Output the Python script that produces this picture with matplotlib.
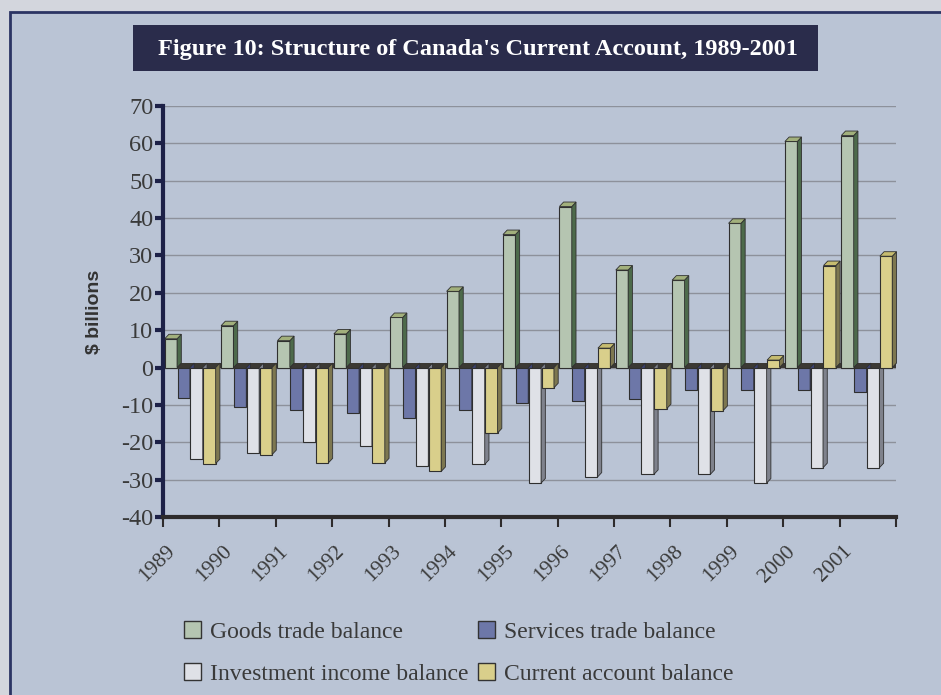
import numpy as np
import matplotlib.pyplot as plt
from matplotlib.patches import Rectangle, Polygon, Patch

years = [str(y) for y in range(1989, 2002)]
goods = [7.7, 11.2, 7.2, 9.0, 13.4, 20.4, 35.6, 43.1, 26.1, 23.4, 38.6, 60.5, 62.1]
services = [-8.1, -10.5, -11.4, -12.1, -13.6, -11.4, -9.6, -8.9, -8.3, -6.0, -6.0, -6.0, -6.5]
investment = [-24.6, -22.8, -19.9, -21.0, -26.4, -25.9, -30.9, -29.3, -28.6, -28.6, -30.9, -26.8, -26.8]
current = [-25.7, -23.3, -25.5, -25.5, -27.8, -17.5, -5.4, 5.2, -11.0, -11.5, 2.0, 27.3, 29.8]

names = ["Goods trade balance", "Services trade balance",
         "Investment income balance", "Current account balance"]
series = [goods, services, investment, current]
# front, side, top colours
cols = [("#b5c5b1", "#4d6a4b", "#a2b07c"),
        ("#6d77a8", "#3c4270", "#5a6494"),
        ("#dfe1e7", "#7f828c", "#c9ccd4"),
        ("#d9cf8b", "#7d7750", "#c6bc70")]

bg = "#bac4d5"
fig = plt.figure(figsize=(9.41, 6.95), dpi=100)
fig.patch.set_facecolor("#d3d6dd")

# outer frame
fig.patches.append(Rectangle((10/941, -0.1), 1.2, 1 - 12/695 + 0.1, transform=fig.transFigure,
                             fc=bg, ec="#2b3463", lw=2, zorder=-10))
# title box
fig.patches.append(Rectangle((133/941, 1 - 71/695), 685/941, 46/695, transform=fig.transFigure,
                             fc="#2a2c4b", ec="none", zorder=-9))
fig.text(478/941, 1 - 49/695, "Figure 10: Structure of Canada's Current Account, 1989-2001",
         color="white", fontsize=17.5, fontweight="bold", family="Liberation Serif",
         ha="center", va="center", zorder=2)

ax = fig.add_axes([163/941, 1 - 517/695, (896 - 163)/941, (517 - 106)/695])
ax.set_facecolor("none")
ax.set_zorder(1)

x = np.arange(len(years))
w = 0.22
step = 0.228
dx, dy = 0.075, 1.2

ax.axhspan(0, dy, color="#3b3934", zorder=0.8, lw=0)

for k, (vals, (fc, sc, tc)) in enumerate(zip(series, cols)):
    left = x - 0.5 + 0.03 + k*step
    ax.bar(left, vals, width=w, align="edge", color=fc, edgecolor="#2f2f2f",
           linewidth=0.8, zorder=2 + k)
    for xl, v in zip(left, vals):
        xr = xl + w
        ax.add_patch(Polygon([(xr, 0), (xr + dx, dy), (xr + dx, v + dy), (xr, v)],
                             closed=True, fc=sc, ec="#2f2f2f", lw=0.6, zorder=2 + k,
                             clip_on=False))
        if v > 0:
            ax.add_patch(Polygon([(xl, v), (xl + dx, v + dy), (xr + dx, v + dy), (xr, v)],
                                 closed=True, fc=tc, ec="#2f2f2f", lw=0.6, zorder=2 + k,
                                 clip_on=False))

ax.set_xlim(-0.5, 12.5)
ax.set_ylim(-40, 70)
ax.set_yticks(range(-40, 80, 10))
ax.set_yticklabels([str(v) for v in range(-40, 80, 10)], family="Liberation Serif",
                   fontsize=17.5, color="#3a3a3a")
ax.yaxis.grid(True, color="#8d919b", lw=1)
ax.set_axisbelow(True)

ax.set_xticks(x - 0.45)
ax.set_xticklabels(years, rotation=45, ha="right", rotation_mode="anchor",
                   family="Liberation Serif", fontsize=15.5, color="#3a3a3a")
ax.set_xticks(np.arange(-0.5, 13, 1), minor=True)
ax.tick_params(axis="x", which="major", length=0, pad=18)
ax.tick_params(axis="x", which="minor", length=7, width=1.5, color="#2e2b2c")
ax.tick_params(axis="y", length=6, width=3, color="#1d2147", pad=1)

for s in ["top", "right"]:
    ax.spines[s].set_visible(False)
ax.spines["left"].set_color("#1d2147")
ax.spines["left"].set_linewidth(3)
ax.spines["bottom"].set_color("#2e2b2c")
ax.spines["bottom"].set_linewidth(3)

ax.set_ylabel("$ billions", family="Liberation Sans", fontweight="bold", fontsize=14,
              color="#333333", labelpad=13)

handles = [Patch(fc=c[0], ec="#333333", lw=1) for c in cols]
order = [0, 2, 1, 3]
fig.legend([handles[i] for i in order], [names[i] for i in order], ncol=2,
           loc="center left", bbox_to_anchor=(163/941, 1 - 653/695), frameon=False,
           prop={"family": "Liberation Serif", "size": 17}, handlelength=0.7,
           handleheight=0.7, handletextpad=0.4, columnspacing=0.4, labelspacing=0.85,
           labelcolor="#3a3a3a")

fig.savefig("out.png", dpi=100, facecolor=fig.get_facecolor())
